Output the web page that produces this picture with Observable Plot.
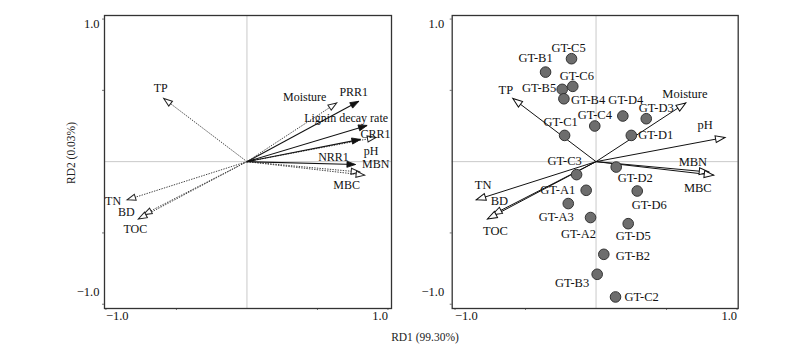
<!DOCTYPE html>
<html><head><meta charset="utf-8">
<script src="https://cdn.jsdelivr.net/npm/d3@7"></script>
<script src="https://cdn.jsdelivr.net/npm/@observablehq/plot@0.6"></script>
<style>
body{margin:0;background:#fff;}
#wrap{position:relative;width:800px;height:357px;overflow:hidden;font-family:"Liberation Serif","Times New Roman",serif;}
.panel{position:absolute;top:0;}
.title{position:absolute;font-size:11.5px;color:#222;white-space:nowrap;line-height:1;}
</style></head><body>
<div id="wrap"></div>
<script>
// ---- data ----
const envNames = ["TP","Moisture","pH","MBN","MBC","TN","BD","TOC"];
const envRD1   = [-0.59, 0.637, 0.915, 0.80, 0.835, -0.85, -0.735, -0.77];
const envRD2   = [0.443, 0.412, 0.17, -0.073, -0.095, -0.268, -0.372, -0.402];

const respNames = ["PRR1","Lignin decay rate","CRR1","NRR1"];
const respRD1   = [0.793, 0.852, 0.805, 0.77];
const respRD2   = [0.423, 0.254, 0.156, -0.02];

const siteNames = ["GT-C5","GT-B1","GT-C6","GT-B5","GT-B4","GT-D4","GT-D3","GT-C4","GT-C1","GT-D1",
                   "GT-C3","GT-D2","GT-A1","GT-D6","GT-A3","GT-A2","GT-D5","GT-B2","GT-B3","GT-C2"];
const siteRD1 = [-0.174,-0.358,-0.165,-0.24,-0.228,0.19,0.356,-0.009,-0.223,0.25,
                 -0.138,0.143,-0.07,0.292,-0.197,-0.039,0.228,0.055,0.008,0.138];
const siteRD2 = [0.722,0.628,0.528,0.507,0.441,0.32,0.301,0.25,0.184,0.184,
                 -0.091,-0.038,-0.201,-0.206,-0.294,-0.392,-0.435,-0.65,-0.79,-0.949];

const axisTicks = [-1, 1];
const minorTicks = [-0.5, 0.5];
const xTitle = "RD1 (99.30%)";
const yTitle = "RD2 (0.03%)";

// ---- label placement (px offsets, anchor) ----
const leftEnvLabel = {TP:[-3,-10], Moisture:[-32,-6], pH:[-5,14], MBN:[16,-8], MBC:[-18,10], TN:[-14,1], BD:[-17,-3], TOC:[-3,10]};
const leftRespLabel = {"PRR1":[-5,-9], "Lignin decay rate":[21,-7,"end"], "CRR1":[15,-5], "NRR1":[-22,-7]};
const rightEnvLabel = {TP:[-7,-8], Moisture:[-1,-9], pH:[-20,-12], MBN:[-16,-10], MBC:[-16,13], TN:[7,-15], BD:[7,-14], TOC:[8,12]};
const siteLabel = {"GT-C5":[-3,-11],"GT-B1":[-10,-14],"GT-C6":[4,-10],"GT-B5":[-6,-1,"end"],"GT-B4":[7,1,"start"],
  "GT-D4":[3,-16],"GT-D3":[10,-11],"GT-C4":[0,-11],"GT-C1":[-4,-13],"GT-D1":[7,0,"start"],
  "GT-C3":[-12,-14],"GT-D2":[19,11],"GT-A1":[-11,0,"end"],"GT-D6":[12,14],"GT-A3":[-12,13],
  "GT-A2":[-12,16],"GT-D5":[5,12],"GT-B2":[12,2,"start"],"GT-B3":[-8,9,"end"],"GT-C2":[9,0,"start"]};

// ---- build tables ----
const env = envNames.map((n,i)=>({name:n, x:envRD1[i], y:envRD2[i]}));
const resp = respNames.map((n,i)=>({name:n, x:respRD1[i], y:respRD2[i]}));
const sites = siteNames.map((n,i)=>({name:n, x:siteRD1[i], y:siteRD2[i]}));

const FONT = "Liberation Serif, Times New Roman, serif";
const fmt = d3.format(".1f");

// arrowhead symbol: tip at origin pointing up
const headSym = {draw(ctx, size){ const r = Math.sqrt(size/Math.PI); const L=r*2, W=r*0.72;
  ctx.moveTo(0,0); ctx.lineTo(-W,L); ctx.lineTo(W,L); ctx.closePath(); }};
const rot = d => Math.atan2(d.x, d.y)*180/Math.PI;

function labelMarks(data, offsets, size){
  return data.map(d=>{
    const o = offsets[d.name];
    return Plot.text([d], {x:"x", y:"y", text:"name", dx:o[0], dy:o[1], textAnchor:o[2]||"middle",
      fontSize:size, fill:"#111"});
  });
}

function frameMarks(labelPad){
  return [
    Plot.ruleX([0], {stroke:"#c9c9c9", strokeWidth:1}),
    Plot.ruleY([0], {stroke:"#c9c9c9", strokeWidth:1}),
    Plot.axisX(minorTicks.concat(axisTicks), {tickSize:2, tickFormat:()=>"", stroke:"#777", label:null}),
    Plot.axisY(minorTicks.concat(axisTicks), {tickSize:2, tickFormat:()=>"", stroke:"#777", label:null}),
    Plot.text(axisTicks.filter(t=>t<0), {x:d=>d, text:fmt, frameAnchor:"bottom", dy:11, textAnchor:"start", fontSize:12.5, fill:"#111"}),
    Plot.text(axisTicks.filter(t=>t>0), {x:d=>d, text:fmt, frameAnchor:"bottom", dy:11, textAnchor:"end", fontSize:12.5, fill:"#111"}),
    Plot.text(axisTicks.filter(t=>t>0), {y:d=>d, text:fmt, frameAnchor:"left", dx:-labelPad, dy:5, textAnchor:"end", fontSize:12.5, fill:"#111"}),
    Plot.text(axisTicks.filter(t=>t<0), {y:d=>d, text:fmt, frameAnchor:"left", dx:-labelPad, dy:-12, textAnchor:"end", fontSize:12.5, fill:"#111"}),
    Plot.frame({stroke:"#333", strokeWidth:1.3})
  ];
}

const left = Plot.plot({
  width:420, height:357, marginLeft:104, marginRight:29, marginTop:15, marginBottom:49,
  x:{domain:[-1.01, 1.025]}, y:{domain:[-1.03, 1.025]},
  style:{fontFamily:FONT, overflow:"visible", background:"transparent"},
  marks:[
    ...frameMarks(5),
    Plot.link(env, {x1:0, y1:0, x2:"x", y2:"y", stroke:"#444", strokeWidth:1, strokeDasharray:"1.4,1.2"}),
    Plot.link(resp, {x1:0, y1:0, x2:"x", y2:"y", stroke:"#111", strokeWidth:1.1}),
    Plot.dot(env, {x:"x", y:"y", symbol:headSym, r:4.3, rotate:rot, fill:"white", stroke:"#222", strokeWidth:1}),
    Plot.dot(resp, {x:"x", y:"y", symbol:headSym, r:4.3, rotate:rot, fill:"#111", stroke:"#111", strokeWidth:0.8}),
    ...labelMarks(env, leftEnvLabel, 12),
    ...labelMarks(resp, leftRespLabel, 12)
  ]
});

const right = Plot.plot({
  width:400, height:357, marginLeft:51.7, marginRight:62.3, marginTop:15, marginBottom:49,
  x:{domain:[-1.02, 1.008]}, y:{domain:[-1.03, 1.025]},
  style:{fontFamily:FONT, overflow:"visible", background:"transparent"},
  marks:[
    ...frameMarks(8),
    Plot.link(env, {x1:0, y1:0, x2:"x", y2:"y", stroke:"#111", strokeWidth:1}),
    Plot.dot(env, {x:"x", y:"y", symbol:headSym, r:4.8, rotate:rot, fill:"white", stroke:"#111", strokeWidth:1}),
    Plot.dot(sites, {x:"x", y:"y", r:5.3, fill:"#6d6d6d", stroke:"#333", strokeWidth:1}),
    ...labelMarks(env, rightEnvLabel, 12.5),
    ...labelMarks(sites, siteLabel, 12.5)
  ]
});

const wrap = document.getElementById("wrap");
left.classList.add("panel"); left.style.left = "0px";
right.classList.add("panel"); right.style.left = "400px";
wrap.appendChild(left); wrap.appendChild(right);

const xt = document.createElement("div");
xt.className = "title"; xt.textContent = xTitle;
xt.style.left = "425px"; xt.style.top = "338px"; xt.style.transform = "translate(-50%,-50%)";
wrap.appendChild(xt);
const yt = document.createElement("div");
yt.className = "title"; yt.textContent = yTitle;
yt.style.left = "72px"; yt.style.top = "153px"; yt.style.transform = "translate(-50%,-50%) rotate(-90deg)";
wrap.appendChild(yt);
</script>
</body></html>
